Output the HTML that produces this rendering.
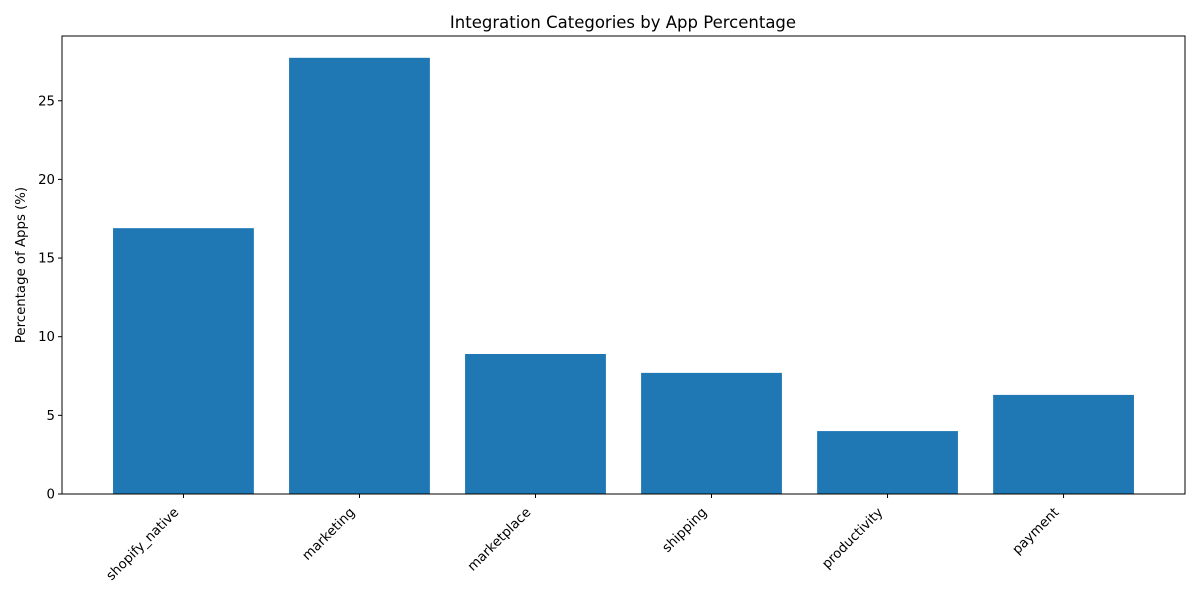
<!DOCTYPE html>
<html><head><meta charset="utf-8"><style>
body{margin:0;background:#fff;}
svg{font-family:"DejaVu Sans","Liberation Sans",sans-serif;}
</style></head><body>
<svg id="chart" width="1200" height="600">
<rect width="1200" height="600" fill="#fff"/>
<text x="623" y="28" text-anchor="middle" font-size="16.5">Integration Categories by App Percentage</text>
<text transform="translate(25,265) rotate(-90)" text-anchor="middle" font-size="13.3">Percentage of Apps (%)</text>
<g id="bars"></g><g id="yticks"></g><g id="xticks"></g>
<rect x="62" y="36" width="1123" height="458" fill="none" stroke="#000" stroke-width="1"/>
</svg>
<script>
const categories=["shopify_native","marketing","marketplace","shipping","productivity","payment"];
const values=[16.9,27.73,8.9,7.7,4.0,6.3];
const yTicks=[0,5,10,15,20,25];
const L=62,R=1185,T=36,B=494;
const yMax=Math.max(...values)*1.05;
const xMin=-0.4-0.05*(categories.length-0.2),xMax=categories.length-0.6+0.05*(categories.length-0.2);
const xs=i=>L+(i-xMin)/(xMax-xMin)*(R-L);
const ys=v=>B-v/yMax*(B-T);
const ns="http://www.w3.org/2000/svg";
const bw=0.8*(R-L)/(xMax-xMin);
const gb=document.getElementById('bars'),gy=document.getElementById('yticks'),gx=document.getElementById('xticks');
values.forEach((v,i)=>{
 const r=document.createElementNS(ns,'rect');
 r.setAttribute('x',xs(i)-bw/2);r.setAttribute('y',ys(v));r.setAttribute('width',bw);r.setAttribute('height',B-ys(v));r.setAttribute('fill','#1f77b4');
 
 
 gb.appendChild(r);
});
yTicks.forEach(t=>{
 const y=ys(t);
 const l=document.createElementNS(ns,'line');
 l.setAttribute('x1',L-4);l.setAttribute('x2',L);l.setAttribute('y1',y);l.setAttribute('y2',y);l.setAttribute('stroke','#000');
 
 
 gy.appendChild(l);
 const tx=document.createElementNS(ns,'text');
 tx.setAttribute('x',L-7);tx.setAttribute('y',y+4.5);tx.setAttribute('text-anchor','end');tx.setAttribute('font-size','13.3');tx.textContent=t;
 
 
 gy.appendChild(tx);
});
categories.forEach((c,i)=>{
 const x=xs(i);
 const l=document.createElementNS(ns,'line');
 l.setAttribute('x1',x);l.setAttribute('x2',x);l.setAttribute('y1',B);l.setAttribute('y2',B+4);l.setAttribute('stroke','#000');
 
 
 gx.appendChild(l);
 const tx=document.createElementNS(ns,'text');
 tx.setAttribute('transform',`translate(${x-4},${B+19}) rotate(-45)`);tx.setAttribute('text-anchor','end');tx.setAttribute('font-size','13.3');tx.textContent=c;
 
 
 gx.appendChild(tx);
});
</script>
</body></html>
